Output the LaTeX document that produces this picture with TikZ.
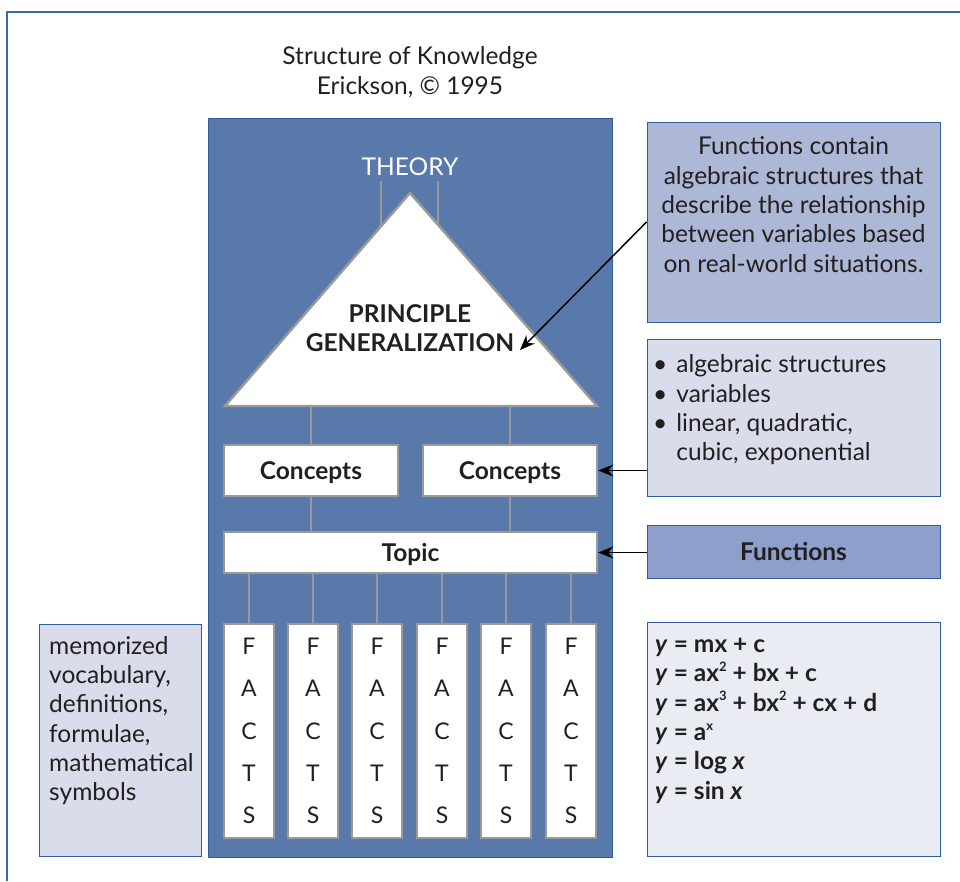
\documentclass[tikz,border=0pt]{standalone}
\usepackage{fontspec}
\setmainfont{Lato}
\usetikzlibrary{arrows.meta}
\definecolor{frameblue}{HTML}{3A6AA8}
\definecolor{bigblue}{HTML}{5A79AB}
\definecolor{edgeblue}{HTML}{2F5F9E}
\definecolor{fillA}{HTML}{ADB8D7}
\definecolor{fillB}{HTML}{D8DCEB}
\definecolor{fillC}{HTML}{8E9FCB}
\definecolor{fillD}{HTML}{EAECF4}
\definecolor{glines}{HTML}{9A9A9A}
\definecolor{ink}{HTML}{231F20}
\newcommand{\sq}[1]{\raisebox{0.42em}{\fontsize{13}{13}\selectfont #1}}
\tikzset{
  base/.style={text=ink, font=\fontsize{24.5}{29.3}\selectfont},
  bbase/.style={text=ink, font=\fontsize{24.5}{29.3}\selectfont\bfseries},
  wbox/.style={draw=glines, line width=2.4pt, fill=white, inner sep=0pt, text depth=0pt},
  sidebox/.style={draw=edgeblue, line width=1pt, inner sep=0pt},
  glink/.style={draw=glines, line width=2.4pt},
  arr/.style={draw=black, line width=1.5pt, -{Stealth[length=15pt,width=12pt]}},
}
\begin{document}
\begin{tikzpicture}[x=1pt,y=-1pt]
\useasboundingbox (0,0) rectangle (960,881);
% outer frame
\draw[frameblue, line width=1.5pt] (7,881) -- (7,12) -- (960,12);
\node[base, align=center] (title) at (410,72) {Structure of Knowledge\\Erickson, © 1995};
% big blue panel
\node[draw=edgeblue, line width=1pt, fill=bigblue, minimum width=404pt, minimum height=739pt, inner sep=0pt] (bg) at (410,487.5) {};
% theory
\node[base, text=white] (theory) at (410,167) {THEORY};
\coordinate (apex) at (410,193);
\coordinate (bl) at (225,406);
\coordinate (br) at (597,406);
\draw[glink] (381,181) -- (381,235);
\draw[glink] (438,181) -- (438,235);
\draw[glink, fill=white, line join=miter] (apex) -- (br) -- (bl) -- cycle;
\node[bbase, align=center] (pg) at (410,328) {PRINCIPLE\\GENERALIZATION};
% concepts
\node[wbox, bbase, minimum width=174pt, minimum height=51pt] (c1) at (311,470.5) {Concepts};
\node[wbox, bbase, minimum width=174pt, minimum height=51pt] (c2) at (510,470.5) {Concepts};
\draw[glink] (c1.north) -- (c1.north |- bl);
\draw[glink] (c2.north) -- (c2.north |- br);
% topic
\node[wbox, bbase, minimum width=373pt, minimum height=41pt] (topic) at (410.5,552.5) {Topic};
\draw[glink] (c1.south) -- (c1.south |- topic.north);
\draw[glink] (c2.south) -- (c2.south |- topic.north);
% facts
\foreach \i/\x in {1/249,2/313,3/377,4/442,5/506,6/571}{
  \node[wbox, text=ink, align=center, font=\fontsize{23}{42.3}\selectfont, minimum width=50pt, minimum height=214pt] (f\i) at (\x,731) {F\\A\\C\\T\\S};
  \draw[glink] (f\i.north) -- (f\i.north |- topic.south);
}
% right boxes
\node[sidebox, fill=fillA, minimum width=293pt, minimum height=200pt] (b1) at (793.5,222) {};
\node[base, align=center, anchor=north] (b1t) at ([yshift=-12pt]b1.north) {Functions contain\\algebraic structures that\\describe the relationship\\between variables based\\on real-world situations.};
\node[sidebox, fill=fillB, minimum width=293pt, minimum height=157pt] (b2) at (793.5,417.5) {};
\node[base, anchor=north west, inner sep=0pt] (b2t) at (653,352) {\begin{tabular}{@{}l@{\hspace{9pt}}l@{}}•&algebraic structures\\•&variables\\•&linear, quadratic,\\&cubic, exponential\end{tabular}};
\node[sidebox, fill=fillC, minimum width=293pt, minimum height=53pt, bbase, text depth=0pt] (b3) at (793.5,551.5) {Functions};
\node[sidebox, fill=fillD, minimum width=293pt, minimum height=234pt] (b4) at (793.5,739) {};
\node[bbase, anchor=north west, inner sep=0pt, align=left] (b4t) at (655,638) {\textit{y} = mx + c\\\textit{y} = ax\sq{2} + bx + c\\\textit{y} = ax\sq{3} + bx\sq{2} + cx + d\\\textit{y} = a\sq{x}\\\textit{y} = log \textit{x}\\\textit{y} = sin \textit{x}};
% left box
\node[sidebox, fill=fillB, minimum width=162pt, minimum height=232pt] (lb) at (120,740) {};
\node[base, anchor=north west, inner sep=0pt, align=left] (lbt) at (49,636) {memorized\\vocabulary,\\definitions,\\formulae,\\mathematical\\symbols};
% arrows
\draw[arr] (b1.west) -- (520,350);
\draw[arr] (c2.east -| b2.west) -- (c2.east);
\draw[arr] (topic.east -| b3.west) -- (topic.east);
\end{tikzpicture}
\end{document}
